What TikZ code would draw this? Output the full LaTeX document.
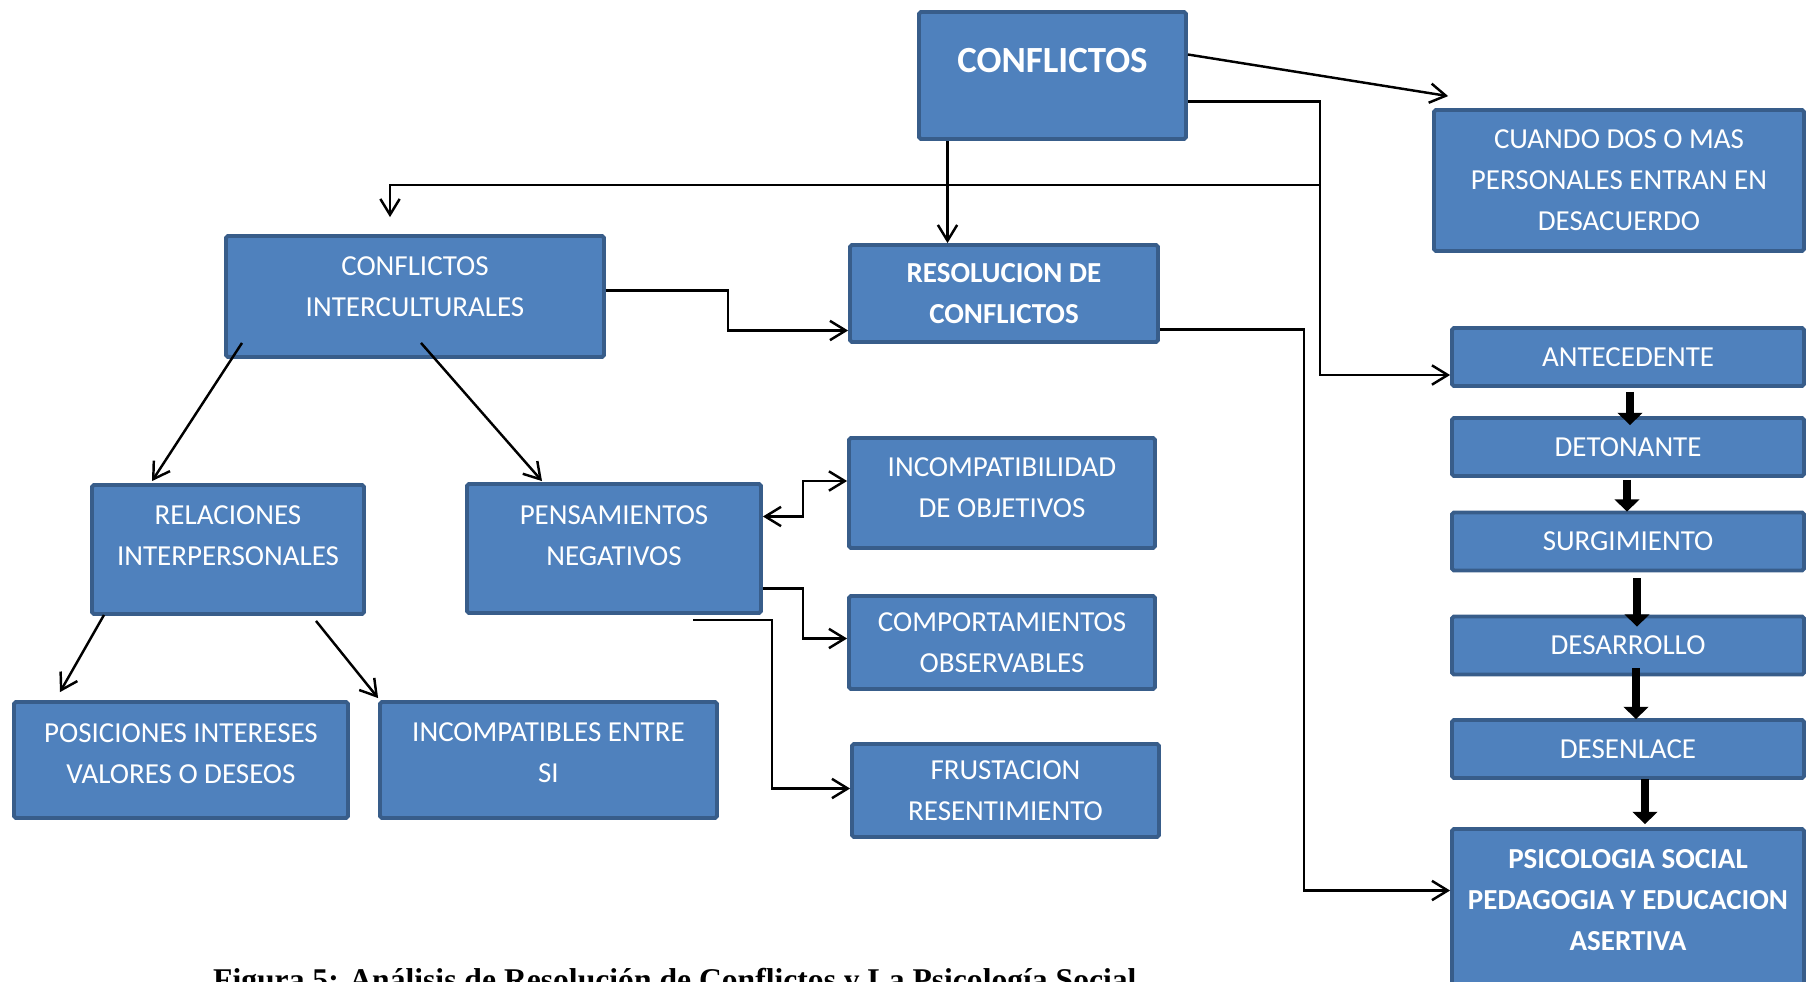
\documentclass[tikz,border=0pt]{standalone}
\usepackage{fontspec}
\setmainfont{Carlito}
\newfontfamily\captionfont{Liberation Serif}
\usetikzlibrary{arrows.meta,positioning}
\definecolor{boxcol}{HTML}{4F81BD}
\definecolor{edgecol}{HTML}{385D8A}
\tikzstyle{conn} = [-{Straight Barb[length=9pt,width=11pt]},black,line width=1.4pt]
\tikzstyle{both} = [{Straight Barb[length=9pt,width=11pt]}-{Straight Barb[length=9pt,width=11pt]},black,line width=1.4pt]
\tikzstyle{stagearrow} = [-{Triangle[length=7pt,width=14pt]},black,line width=4.6pt]
\tikzset{
  basic box/.style = {
    shape = rectangle,
    draw = edgecol,
    fill = boxcol,
    line width = 2.2pt,
    rounded corners = 1pt,
    text = white,
    align = center,
    inner sep = 2pt,
    font = \fontsize{16.5}{23.3}\selectfont,
    },
  concept/.style 2 args = {
    basic box,
    minimum width = #1,
    minimum height = #2,
    },
  bold concept/.style 2 args = {
    concept = {#1}{#2},
    font = \bfseries\fontsize{16.5}{23.3}\selectfont,
    },
  lift/.style = {text depth = #1},
}

\begin{document}
\begin{tikzpicture}[x=0.02cm,y=-0.02cm]
    \clip (0,0) rectangle (1809,981);

    % top
    \node[bold concept={5.34cm}{2.54cm}, lift=0.6cm, font=\bfseries\fontsize{21}{25}\selectfont] (conflictos) at (1052.5,75.5) {CONFLICTOS};
    \node[concept={7.40cm}{2.82cm}] (cuando) at (1619,180.5) {CUANDO DOS O MAS\\PERSONALES ENTRAN EN\\DESACUERDO};
    \node[concept={7.56cm}{2.42cm}, lift=0.4cm] (interculturales) at (415,296.5) {CONFLICTOS\\INTERCULTURALES};
    \node[bold concept={6.16cm}{1.94cm}] (resolucion) at (1004,293.5) {RESOLUCION DE\\CONFLICTOS};

    % stages
    \node[concept={7.04cm}{1.16cm}] (antecedente) at (1628,357) {ANTECEDENTE};
    \node[concept={7.04cm}{1.16cm}] (detonante) at (1628,447) {DETONANTE};
    \node[concept={7.04cm}{1.16cm}] (surgimiento) at (1628,541.5) {SURGIMIENTO};
    \node[concept={7.04cm}{1.16cm}] (desarrollo) at (1628,645.5) {DESARROLLO};
    \node[concept={7.04cm}{1.16cm}] (desenlace) at (1628,749) {DESENLACE};
    \node[bold concept={7.04cm}{3.18cm}, lift=0.34cm] (psicologia) at (1628,908.5) {PSICOLOGIA SOCIAL\\PEDAGOGIA Y EDUCACION\\ASERTIVA};

    % left branch
    \node[concept={5.44cm}{2.58cm}, lift=0.56cm] (relaciones) at (228,549.5) {RELACIONES\\INTERPERSONALES};
    \node[concept={5.88cm}{2.58cm}, lift=0.52cm] (pensamientos) at (614,548.5) {PENSAMIENTOS\\NEGATIVOS};
    \node[concept={6.12cm}{2.20cm}, lift=0.2cm] (incompatibilidad) at (1002,493) {INCOMPATIBILIDAD\\DE OBJETIVOS};
    \node[concept={6.12cm}{1.86cm}] (comportamientos) at (1002,642.5) {COMPORTAMIENTOS\\OBSERVABLES};
    \node[concept={6.14cm}{1.86cm}] (frustacion) at (1005.5,790.5) {FRUSTACION\\RESENTIMIENTO};
    \node[concept={6.68cm}{2.32cm}, lift=0.24cm] (posiciones) at (181,760) {POSICIONES INTERESES\\VALORES O DESEOS};
    \node[concept={6.74cm}{2.32cm}, lift=0.28cm] (incompatibles) at (548.5,760) {INCOMPATIBLES ENTRE\\SI};

    \node[font=\captionfont\bfseries\fontsize{18}{22}\selectfont, anchor=base west] (caption) at (207,990) {Figura 5: Análisis de Resolución de Conflictos y La Psicología Social};

    % Paths
    \coordinate (branch) at (1320,185);
    \draw[conn] ([shift={(0,-21)}]conflictos.east) -- ([shift={(16,-12)}]cuando.north west);
    \draw[conn] ([shift={(0,26)}]conflictos.east) -| (branch) |- ([shift={(0,18)}]antecedente.west);
    \draw[conn] (branch) -| ([shift={(-25,-17)}]interculturales.north);
    \draw[conn] ([xshift=-2.1cm]conflictos.south) -- ([xshift=-2.1cm]conflictos.south |- resolucion.north);
    \draw[conn] ([shift={(0,-6)}]interculturales.east) -- ++(122,0) |- ([shift={(0,37)}]resolucion.west);
    \draw[conn] ([shift={(0,36)}]resolucion.east) -- ++(144,0) |- ([shift={(0,-18)}]psicologia.west);

    \draw[conn] ([shift={(-173,-16)}]interculturales.south) -- ([shift={(-76,-2)}]relaciones.north);
    \draw[conn] ([shift={(6,-16)}]interculturales.south) -- ([shift={(-72,-1)}]pensamientos.north);
    \draw[conn] ([shift={(-124,-1)}]relaciones.south) -- ([shift={(-121,-8)}]posiciones.north);
    \draw[conn] ([shift={(88,5)}]relaciones.south) -- ([shift={(0,-2)}]incompatibles.north west);

    \draw[both] ([shift={(0,-32)}]pensamientos.east) -- ++(40,0) |- ([shift={(0,-12)}]incompatibilidad.west);
    \draw[conn] ([shift={(0,40)}]pensamientos.east) -- ++(40,0) |- ([shift={(0,-4)}]comportamientos.west);
    \draw[conn] ([shift={(79,5)}]pensamientos.south) -- ++(79,0) |- ([shift={(0,-2)}]frustacion.west);

    \draw[stagearrow] ([shift={(2,4)}]antecedente.south) -- ([shift={(2,9)}]detonante.north);
    \draw[stagearrow] ([shift={(-1,2)}]detonante.south) -- ([shift={(-1,1)}]surgimiento.north);
    \draw[stagearrow] ([shift={(9,6)}]surgimiento.south) -- ([shift={(9,12)}]desarrollo.north);
    \draw[stagearrow] ([shift={(8,-8)}]desarrollo.south) -- ([shift={(8,1)}]desenlace.north);
    \draw[stagearrow] ([shift={(17,-1)}]desenlace.south) -- ([shift={(17,-3)}]psicologia.north);
\end{tikzpicture}
\end{document}
